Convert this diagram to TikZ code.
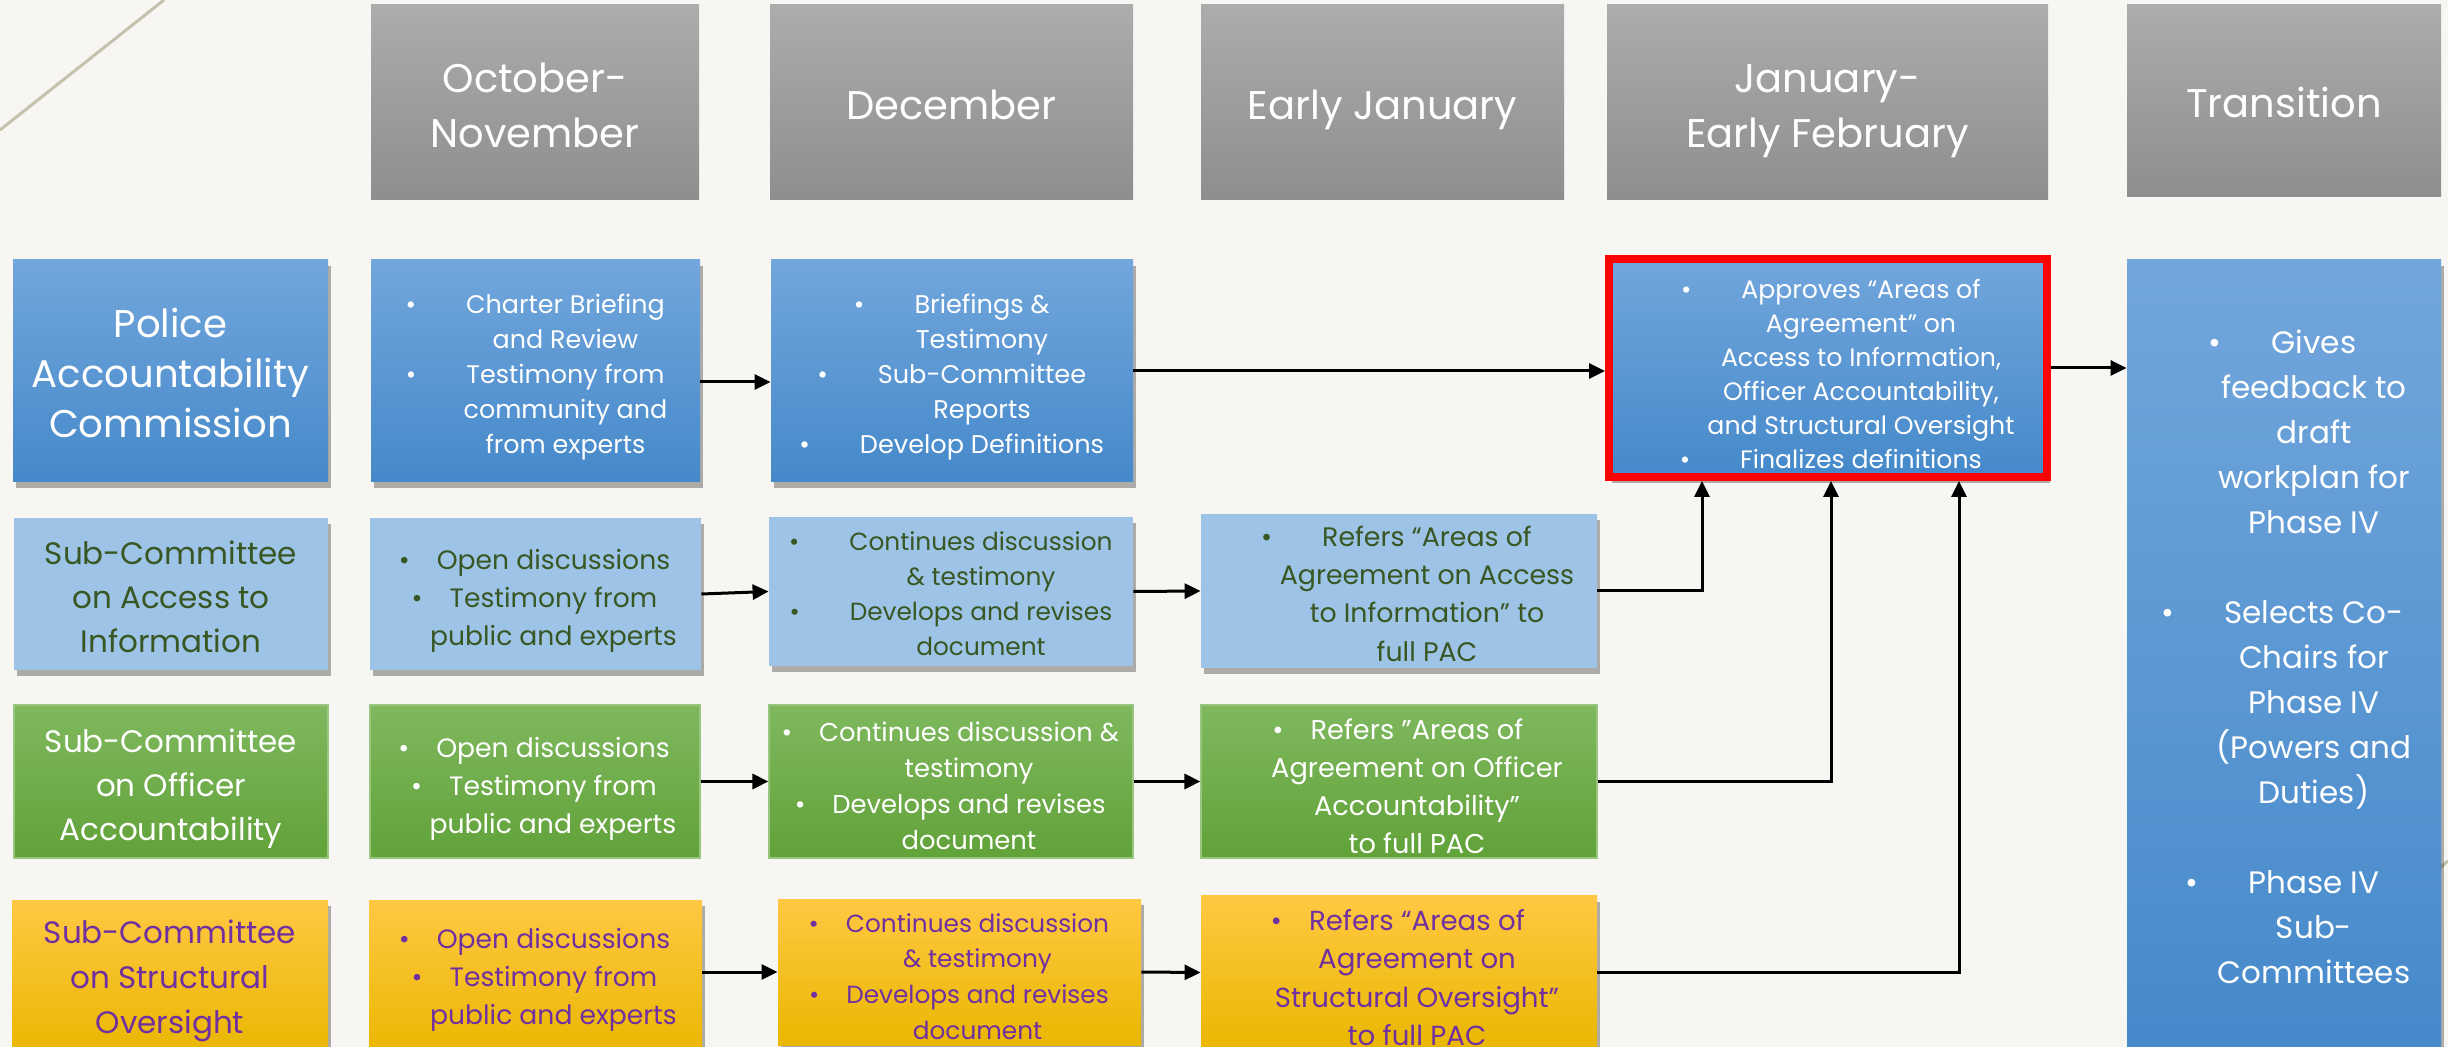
\documentclass[tikz,border=0pt]{standalone}
\usepackage{fontspec}
\setmainfont{Poppins}
\usetikzlibrary{arrows.meta,shadows,calc}
\definecolor{bg}{HTML}{F7F6F2}
\definecolor{hdrtop}{HTML}{ACACAC}
\definecolor{hdrbot}{HTML}{8E8E8E}
\definecolor{bluetop}{HTML}{72A6DC}
\definecolor{bluebot}{HTML}{4589CA}
\definecolor{lblue}{HTML}{9DC3E6}
\definecolor{dgreen}{HTML}{385723}
\definecolor{greentop}{HTML}{7FB85E}
\definecolor{greenbot}{HTML}{61A239}
\definecolor{yeltop}{HTML}{FFC843}
\definecolor{yelmid}{HTML}{FFC000}
\definecolor{yelbot}{HTML}{EAB700}
\definecolor{purp}{HTML}{7030A0}
\definecolor{deco}{HTML}{C5C1AE}
\newcommand\bulW{\llap{\textbullet\hspace{25pt}}}
\newcommand\bulN{\llap{\textbullet\hspace{13.5pt}}}
\newcommand\shiftedlines[3]{\raisebox{-#2}[\height][\depth]{\hspace*{#1}\begin{tabular}{@{}c@{}}#3\end{tabular}}}
\begin{document}
\begin{tikzpicture}[x=0.5pt,y=-0.5pt,
  base/.style={rectangle, inner sep=0pt, align=center},
  shad/.style={drop shadow={shadow xshift=1.5pt, shadow yshift=-3pt, opacity=0.3, fill=black}},
  hdr/.style={base, top color=hdrtop, bottom color=hdrbot, text=white,
    font=\fontsize{20}{27.5}\selectfont},
  pac/.style={base, shad, top color=bluetop, bottom color=bluebot, text=white},
  redbox/.style={base, shad, top color=bluetop, bottom color=bluebot, text=white, draw=red, line width=4pt},
  acc/.style={base, shad, fill=lblue, text=dgreen},
  ofc/.style={base, top color=greentop, bottom color=greenbot, text=white, draw=greentop!80!white, line width=0.6pt},
  str/.style={base, shad, top color=yeltop, middle color=yelmid, bottom color=yelbot, text=purp},
  rowtitle/.style={font=\fontsize{15.5}{22}\selectfont},
  small/.style 2 args={font=\fontsize{#1}{#2}\selectfont},
  arr/.style={line width=1.5pt, -{Triangle[length=8pt,width=7.5pt]}}
]
\fill[bg] (0,0) rectangle (2448,1047);
\clip (0,0) rectangle (2448,1047);
\draw[deco, line width=1.5pt] (0,130) -- (164,0);
\draw[deco, line width=1.5pt] (2436,871) -- (2448,861);

% headers
\node[hdr, minimum width=164pt, minimum height=97.5pt] (H1) at (535,102.5) {\shiftedlines{0pt}{3.5pt}{October-\\November}};
\node[hdr, minimum width=181.5pt, minimum height=97.5pt] (H2) at (951.5,102.5) {\shiftedlines{0pt}{3pt}{December}};
\node[hdr, minimum width=181.5pt, minimum height=97.5pt] (H3) at (1382.5,102.5) {\shiftedlines{0pt}{3pt}{Early January}};
\node[hdr, minimum width=220.5pt, minimum height=97.5pt] (H4) at (1827.5,102.5) {\shiftedlines{0pt}{3.5pt}{January-\\Early February}};
\node[hdr, minimum width=157pt, minimum height=96pt] (H5) at (2284,101) {\shiftedlines{0pt}{3pt}{Transition}};

% row 1
\node[pac, minimum width=157.5pt, minimum height=111pt, font=\fontsize{19.3}{25}\selectfont] (A1) at (170.5,371) {\shiftedlines{0pt}{3.5pt}{Police\\Accountability\\Commission}};
\node[pac, small={12.7}{17.5}, minimum width=164.5pt, minimum height=111pt] (B1) at (535.5,371)
  {\shiftedlines{30pt}{2.75pt}{\bulW Charter Briefing\\and Review\\\bulW Testimony from\\community and\\from experts}};
\node[pac, small={12.8}{17.5}, minimum width=181pt, minimum height=111pt] (C1) at (952,371)
  {\shiftedlines{30pt}{2.75pt}{\bulW Briefings \&\\Testimony\\\bulW Sub-Committee\\Reports\\\bulW Develop Definitions}};
\node[redbox, small={12.6}{17}, minimum width=219pt, minimum height=109pt] (E1) at (1828,368)
  {\shiftedlines{33pt}{4.3pt}{\bulW Approves “Areas of\\Agreement” on\\Access to Information,\\Officer Accountability,\\and Structural Oversight\\\bulW Finalizes definitions}};
\node[pac, minimum width=157pt, minimum height=400pt, font=\fontsize{15.5}{22.5}\selectfont] (F) at (2284,660)
  {\shiftedlines{30pt}{0pt}{\bulW Gives\\feedback to\\draft\\workplan for\\Phase IV\\ \\\bulW Selects Co-\\Chairs for\\Phase IV\\(Powers and\\Duties)\\ \\\bulW Phase IV\\Sub-\\Committees}};

% row 2
\node[acc, rowtitle, minimum width=157pt, minimum height=76pt] (A2) at (171,594) {\shiftedlines{0pt}{3pt}{Sub-Committee\\on Access to\\Information}};
\node[acc, small={13.3}{19}, minimum width=165.5pt, minimum height=76pt] (B2) at (535.5,594)
  {\shiftedlines{18pt}{2.75pt}{\bulN Open discussions\\\bulN Testimony from\\public and experts}};
\node[acc, small={12.4}{17.5}, minimum width=182pt, minimum height=74.5pt] (C2) at (951,591.5)
  {\shiftedlines{30pt}{2.5pt}{\bulW Continues discussion\\\& testimony\\\bulW Develops and revises\\document}};
\node[acc, small={13.4}{19.2}, minimum width=198pt, minimum height=76pt] (D2) at (1399,591)
  {\shiftedlines{28pt}{2.5pt}{\bulW Refers “Areas of\\Agreement on Access\\to Information” to\\full PAC}};

% row 3
\node[ofc, rowtitle, minimum width=157pt, minimum height=76.5pt] (A3) at (171,781.5) {\shiftedlines{0pt}{3pt}{Sub-Committee\\on Officer\\Accountability}};
\node[ofc, small={13.3}{19}, minimum width=165pt, minimum height=76.5pt] (B3) at (535,781.5)
  {\shiftedlines{18pt}{3pt}{\bulN Open discussions\\\bulN Testimony from\\public and experts}};
\node[ofc, small={12.9}{18}, minimum width=182pt, minimum height=76.5pt] (C3) at (951,781.5)
  {\shiftedlines{18pt}{3.25pt}{\bulN Continues discussion \&\\testimony\\\bulN Develops and revises\\document}};
\node[ofc, small={13.6}{19}, minimum width=198pt, minimum height=76.5pt] (D3) at (1399,781.5)
  {\shiftedlines{18pt}{3.5pt}{\bulN Refers ”Areas of\\Agreement on Officer\\Accountability”\\to full PAC}};

% row 4
\node[str, font=\fontsize{15.5}{22.5}\selectfont, minimum width=158pt, minimum height=77.5pt] (A4) at (170,977.5) {\shiftedlines{0pt}{1pt}{Sub-Committee\\on Structural\\Oversight}};
\node[str, small={13.3}{19}, minimum width=166.5pt, minimum height=77.5pt] (B4) at (535.5,977.5)
  {\shiftedlines{18pt}{0.5pt}{\bulN Open discussions\\\bulN Testimony from\\public and experts}};
\node[str, small={12.4}{17.8}, minimum width=181.5pt, minimum height=73pt] (C4) at (959.5,972)
  {\shiftedlines{18pt}{3.25pt}{\bulN Continues discussion\\\& testimony\\\bulN Develops and revises\\document}};
\node[str, small={13.8}{19.2}, minimum width=198pt, minimum height=73.5pt] (D4) at (1399,972.5)
  {\shiftedlines{18pt}{4pt}{\bulN Refers “Areas of\\Agreement on\\Structural Oversight”\\to full PAC}};

% connectors
\draw[arr] ([yshift=-5.5pt]B1.east) -- ([yshift=-5.5pt]C1.west);
\draw[arr] (C1.east) -- (C1.east -| E1.west);
\draw[arr] (E1.east) -- (E1.east -| F.west);
\draw[arr] (B2.east) -- (C2.west);
\draw[arr] (C2.east) -- (D2.west);
\draw[arr] (D2.east) -| ([xshift=-63pt]E1.south);
\draw[arr] (B3.east) -- (C3.west);
\draw[arr] (C3.east) -- (D3.west);
\draw[arr] (D3.east) -| ([xshift=1.5pt]E1.south);
\draw[arr] (B4.east |- C4.west) -- (C4.west);
\draw[arr] (C4.east) -- (D4.west);
\draw[arr] (D4.east) -| ([xshift=65.5pt]E1.south);
\end{tikzpicture}
\end{document}
